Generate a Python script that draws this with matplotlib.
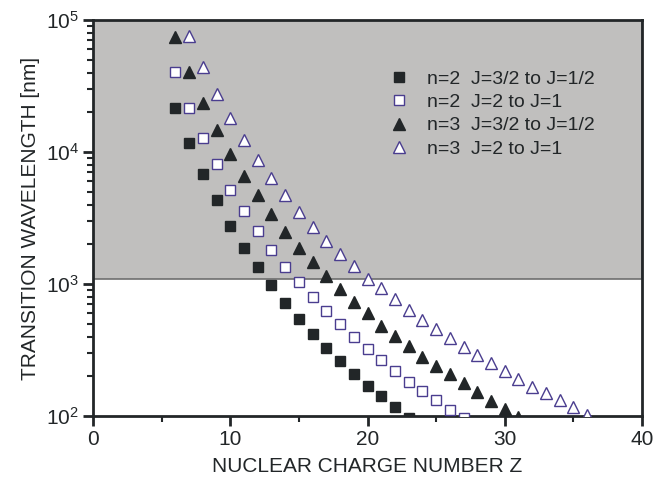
import matplotlib
matplotlib.use("Agg")
import matplotlib.pyplot as plt

# n=2, J=3/2 -> J=1/2
z_n2_a = list(range(6, 24))
wl_n2_a = [21700, 11600, 6800, 4300, 2770, 1880, 1340, 977, 721, 541,
           416, 329, 260, 209, 170, 142, 116, 97]

# n=2, J=2 -> J=1
z_n2_b = list(range(6, 28))
wl_n2_b = [40600, 21700, 12800, 8070, 5150, 3570, 2520, 1810, 1350, 1030,
           793, 624, 498, 395, 322, 264, 219, 182, 156, 132, 112, 97]

# n=3, J=3/2 -> J=1/2
z_n3_a = list(range(6, 32))
wl_n3_a = [74600, 40600, 23400, 14700, 9660, 6600, 4720, 3370, 2490, 1880,
           1460, 1150, 912, 726, 600, 483, 404, 337, 281, 240,
           207, 177, 153, 131, 113, 98]

# n=3, J=2 -> J=1
z_n3_b = list(range(7, 38))
wl_n3_b = [75700, 44300, 27500, 18000, 12300, 8700, 6320, 4720, 3490, 2690,
           2130, 1700, 1380, 1100, 926, 765, 635, 533, 456, 388,
           331, 288, 251, 219, 191, 167, 149, 133, 117, 102, 89]

labels = ["n=2  J=3/2 to J=1/2", "n=2  J=2 to J=1",
          "n=3  J=3/2 to J=1/2", "n=3  J=2 to J=1"]

shade_low = 1100
x_ticks = [0, 10, 20, 30, 40]
y_ticks = [1e2, 1e3, 1e4, 1e5]
y_ticklabels = [r"$\mathregular{10^2}$", r"$\mathregular{10^3}$",
                r"$\mathregular{10^4}$", r"$\mathregular{10^5}$"]

plt.rcParams['font.family'] = ['Liberation Sans', 'DejaVu Sans']
dark = '#222628'
purple = '#4a3d8f'

fig = plt.figure(figsize=(6.55, 4.84), dpi=100)
ax = fig.add_axes([93 / 655, 1 - 416 / 484, 549 / 655, 396 / 484])

ax.axhspan(shade_low, 1e5, facecolor='#c0bfbe', edgecolor='#6e6e6e',
           linewidth=1.2, zorder=0)

ax.plot(z_n2_a, wl_n2_a, ls='none', marker='s', ms=6.5, mfc=dark, mec=dark,
        label=labels[0], zorder=3)
ax.plot(z_n2_b, wl_n2_b, ls='none', marker='s', ms=6.5, mfc='white', mec=purple,
        mew=1.0, label=labels[1], zorder=3)
ax.plot(z_n3_a, wl_n3_a, ls='none', marker='^', ms=8.8, mfc=dark, mec=dark,
        label=labels[2], zorder=3)
ax.plot(z_n3_b, wl_n3_b, ls='none', marker='^', ms=8.8, mfc='white', mec=purple,
        mew=1.0, label=labels[3], zorder=3)

ax.set_yscale('log')
ax.set_xlim(0, 40)
ax.set_ylim(1e2, 1e5)
ax.set_xticks(x_ticks)
ax.set_xticks([5, 15, 25, 35], minor=True)
ax.set_yticks(y_ticks)
ax.set_yticklabels(y_ticklabels)

for s in ax.spines.values():
    s.set_linewidth(2.0)
    s.set_color(dark)

ax.tick_params(which='major', direction='out', length=7, width=2.0,
               color=dark, labelsize=15, labelcolor=dark, pad=3)
ax.tick_params(which='minor', direction='out', length=4, width=1.5, color=dark)
ax.tick_params(top=False, right=False, which='both')

ax.set_xlabel("NUCLEAR CHARGE NUMBER Z", fontsize=15, color=dark, labelpad=6)
ax.set_ylabel("TRANSITION WAVELENGTH [nm]", fontsize=15, color=dark, labelpad=4)

ax.legend(loc='upper left', bbox_to_anchor=(0.505, 0.918), frameon=False,
          fontsize=14, handlelength=1.2, handletextpad=0.8, labelspacing=0.3,
          labelcolor=dark)

fig.savefig("out.png", dpi=100)
